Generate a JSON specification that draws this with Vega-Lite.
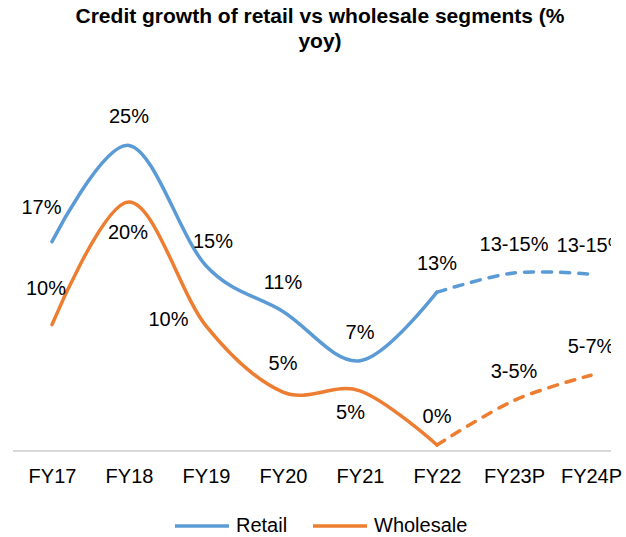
{
  "$schema": "https://vega.github.io/schema/vega-lite/v6.json",
  "width": 598,
  "height": 391,
  "autosize": {"type": "none"},
  "padding": {"left": 13, "top": 60, "right": 15, "bottom": 86},
  "config": {"view": {"stroke": null}, "font": "Liberation Sans"},
  "title": {
    "text": ["Credit growth of retail vs wholesale segments (%", "yoy)"],
    "fontSize": 21,
    "fontWeight": "bold",
    "color": "#000000",
    "lineHeight": 25,
    "anchor": "middle",
    "frame": "group",
    "dx": 8,
    "offset": 8
  },
  "data": {
    "values": [
      {"series": "Retail", "year": "FY17", "value": 16.9, "label": "17%"},
      {"series": "Retail", "year": "FY18", "value": 24.9, "label": "25%"},
      {"series": "Retail", "year": "FY19", "value": 14.9, "label": "15%"},
      {"series": "Retail", "year": "FY20", "value": 11.1, "label": "11%"},
      {"series": "Retail", "year": "FY21", "value": 7.0, "label": "7%"},
      {"series": "Retail", "year": "FY22", "value": 12.7, "label": "13%"},
      {"series": "Retail", "year": "FY23P", "value": 14.3, "label": "13-15%"},
      {"series": "Retail", "year": "FY24P", "value": 14.2, "label": "13-15%"},
      {"series": "Wholesale", "year": "FY17", "value": 10.0, "label": "10%"},
      {"series": "Wholesale", "year": "FY18", "value": 20.2, "label": "20%"},
      {"series": "Wholesale", "year": "FY19", "value": 9.9, "label": "10%"},
      {"series": "Wholesale", "year": "FY20", "value": 4.4, "label": "5%"},
      {"series": "Wholesale", "year": "FY21", "value": 4.5, "label": "5%"},
      {"series": "Wholesale", "year": "FY22", "value": 0.0, "label": "0%"},
      {"series": "Wholesale", "year": "FY23P", "value": 3.7, "label": "3-5%"},
      {"series": "Wholesale", "year": "FY24P", "value": 5.8, "label": "5-7%"}
    ]
  },
  "layer": [
    {
      "mark": {"type": "rule", "color": "#d9d9d9", "strokeWidth": 1.5},
      "encoding": {
        "y": {"datum": -0.5, "type": "quantitative", "scale": {"domain": [-0.5, 32]}, "axis": null}
      }
    },
    {
      "encoding": {
        "x": {
          "field": "year",
          "type": "ordinal",
          "sort": ["FY17", "FY18", "FY19", "FY20", "FY21", "FY22", "FY23P", "FY24P"],
          "scale": {"type": "point", "range": [39, 578], "padding": 0},
          "axis": {
            "title": null,
            "domain": false,
            "ticks": false,
            "tickSize": 0,
            "grid": false,
            "labelFontSize": 20,
            "labelColor": "#000000",
            "labelFont": "Liberation Sans",
            "labelPadding": 15.5,
            "labelAngle": 0,
            "labelOverlap": false,
            "labelBound": false
          }
        },
        "y": {"field": "value", "type": "quantitative", "scale": {"domain": [-0.5, 32]}, "axis": null}
      },
      "layer": [
        {
          "transform": [{"filter": "indexof(['FY23P','FY24P'], datum.year) < 0"}],
          "mark": {"type": "line", "interpolate": "cardinal", "tension": 0, "strokeWidth": 3.5, "strokeCap": "round"},
          "encoding": {
            "color": {
              "field": "series",
              "type": "nominal",
              "scale": {"domain": ["Retail", "Wholesale"], "range": ["#5B9BD5", "#ED7D31"]},
              "legend": {
                "title": null,
                "orient": "none",
                "direction": "horizontal",
                "legendX": 160,
                "legendY": 437,
                "symbolType": "stroke",
                "symbolSize": 2916,
                "symbolStrokeWidth": 3.5,
                "labelFontSize": 20,
                "labelColor": "#000000",
                "labelFont": "Liberation Sans",
                "labelOffset": 5,
                "columnPadding": 18
              }
            }
          }
        },
        {
          "transform": [{"filter": "indexof(['FY22','FY23P','FY24P'], datum.year) >= 0"}],
          "mark": {"type": "line", "interpolate": "cardinal", "tension": 0, "strokeWidth": 3.5, "strokeCap": "round", "strokeDash": [9, 9]},
          "encoding": {
            "color": {
              "field": "series",
              "type": "nominal",
              "scale": {"domain": ["Retail", "Wholesale"], "range": ["#5B9BD5", "#ED7D31"]},
              "legend": {
                "title": null,
                "orient": "none",
                "direction": "horizontal",
                "legendX": 160,
                "legendY": 437,
                "symbolType": "stroke",
                "symbolSize": 2916,
                "symbolStrokeWidth": 3.5,
                "labelFontSize": 20,
                "labelColor": "#000000",
                "labelFont": "Liberation Sans",
                "labelOffset": 5,
                "columnPadding": 18
              }
            }
          }
        },
        {
          "transform": [{"filter": "!((datum.series == 'Retail' && (datum.year == 'FY17' || datum.year == 'FY19')) || (datum.series == 'Wholesale' && indexof(['FY17','FY18','FY19','FY21'], datum.year) >= 0))"}],
          "mark": {"type": "text", "fontSize": 20, "font": "Liberation Sans", "color": "#000000", "baseline": "alphabetic", "align": "center", "dy": -22, "clip": true},
          "encoding": {"text": {"field": "label"}}
        },
        {
          "transform": [{"filter": "datum.series == 'Retail' && datum.year == 'FY17'"}],
          "mark": {"type": "text", "fontSize": 20, "font": "Liberation Sans", "color": "#000000", "baseline": "alphabetic", "align": "center", "dx": -10.5, "dy": -28, "clip": true},
          "encoding": {"text": {"field": "label"}}
        },
        {
          "transform": [{"filter": "datum.series == 'Retail' && datum.year == 'FY19'"}],
          "mark": {"type": "text", "fontSize": 20, "font": "Liberation Sans", "color": "#000000", "baseline": "alphabetic", "align": "center", "dx": 7, "dy": -18, "clip": true},
          "encoding": {"text": {"field": "label"}}
        },
        {
          "transform": [{"filter": "datum.series == 'Wholesale' && datum.year == 'FY17'"}],
          "mark": {"type": "text", "fontSize": 20, "font": "Liberation Sans", "color": "#000000", "baseline": "alphabetic", "align": "center", "dx": -6, "dy": -30, "clip": true},
          "encoding": {"text": {"field": "label"}}
        },
        {
          "transform": [{"filter": "datum.series == 'Wholesale' && datum.year == 'FY18'"}],
          "mark": {"type": "text", "fontSize": 20, "font": "Liberation Sans", "color": "#000000", "baseline": "alphabetic", "align": "center", "dx": -1, "dy": 37.5, "clip": true},
          "encoding": {"text": {"field": "label"}}
        },
        {
          "transform": [{"filter": "datum.series == 'Wholesale' && datum.year == 'FY19'"}],
          "mark": {"type": "text", "fontSize": 20, "font": "Liberation Sans", "color": "#000000", "baseline": "alphabetic", "align": "right", "dx": -17.5, "dy": 0, "clip": true},
          "encoding": {"text": {"field": "label"}}
        },
        {
          "transform": [{"filter": "datum.series == 'Wholesale' && datum.year == 'FY21'"}],
          "mark": {"type": "text", "fontSize": 20, "font": "Liberation Sans", "color": "#000000", "baseline": "alphabetic", "align": "center", "dx": -9.5, "dy": 28, "clip": true},
          "encoding": {"text": {"field": "label"}}
        }
      ]
    }
  ]
}
